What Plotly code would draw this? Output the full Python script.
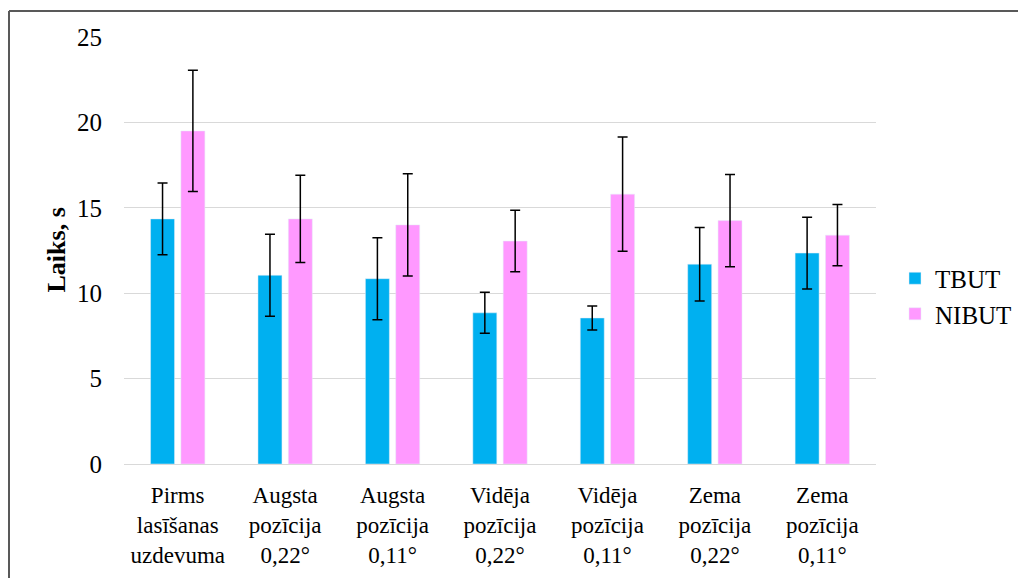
import plotly.graph_objects as go

categories = [
    "Pirms<br>lasīšanas<br>uzdevuma",
    "Augsta<br>pozīcija<br>0,22°",
    "Augsta<br>pozīcija<br>0,11°",
    "Vidēja<br>pozīcija<br>0,22°",
    "Vidēja<br>pozīcija<br>0,11°",
    "Zema<br>pozīcija<br>0,22°",
    "Zema<br>pozīcija<br>0,11°",
]
tbut = [14.35, 11.05, 10.85, 8.85, 8.55, 11.7, 12.35]
tbut_err = [2.1, 2.4, 2.4, 1.2, 0.7, 2.15, 2.1]
nibut = [19.5, 14.35, 14.0, 13.05, 15.8, 14.25, 13.4]
nibut_err = [3.55, 2.55, 3.0, 1.8, 3.35, 2.7, 1.8]

# the page's 8px body margin pushes the figure right/down, so the
# margins are pulled in by the same amount
OFF = 8
W, H = 1026, 578
L, T = 124 - OFF, 37 - OFF
pw, ph = 752, 427
R, B = W - L - pw, H - T - ph

font = "Liberation Serif, Times New Roman, serif"


# screen pixel -> paper coords
def px_x(x):
    return (x - OFF - L) / pw


def px_y(y):
    return (T + ph - (y - OFF)) / ph


err_style = dict(type="data", color="black", thickness=1.5, width=5)

fig = go.Figure()
fig.add_trace(go.Bar(
    x=categories, y=tbut, name="TBUT",
    marker=dict(color="#00b0f0"),
    error_y=dict(array=tbut_err, **err_style),
))
fig.add_trace(go.Bar(
    x=categories, y=nibut, name="NIBUT",
    marker=dict(color="#ff99ff"),
    error_y=dict(array=nibut_err, **err_style),
))

fig.update_layout(
    width=W, height=H,
    margin=dict(l=L, r=R, t=T, b=B),
    paper_bgcolor="white", plot_bgcolor="white",
    font=dict(family=font, size=25, color="black"),
    barmode="group", bargap=0.435, bargroupgap=0.21,
    legend=dict(
        x=px_x(895), y=px_y(296), xanchor="left", yanchor="middle",
        font=dict(size=25),
    ),
    annotations=[dict(
        text="<b>Laiks, s</b>", textangle=-90, showarrow=False,
        xref="paper", yref="paper", x=px_x(56), y=0.5,
        xanchor="center", yanchor="middle", font=dict(size=26),
    )],
    shapes=[
        dict(type="line", xref="paper", yref="paper",
             x0=px_x(9), x1=px_x(1040), y0=px_y(11), y1=px_y(11),
             line=dict(color="#595959", width=2)),
        dict(type="line", xref="paper", yref="paper",
             x0=px_x(9), x1=px_x(9), y0=px_y(11), y1=px_y(600),
             line=dict(color="#595959", width=2)),
    ],
)
fig.update_yaxes(
    range=[0, 25], dtick=5, showgrid=True, gridcolor="#d9d9d9", gridwidth=1,
    zeroline=True, zerolinecolor="#d9d9d9", zerolinewidth=1,
    showline=False, ticklabelstandoff=21,
)
fig.update_xaxes(
    showline=False, showgrid=False, tickangle=0,
    ticklabelstandoff=15, tickfont=dict(size=23),
)

fig.write_html("out.html")
